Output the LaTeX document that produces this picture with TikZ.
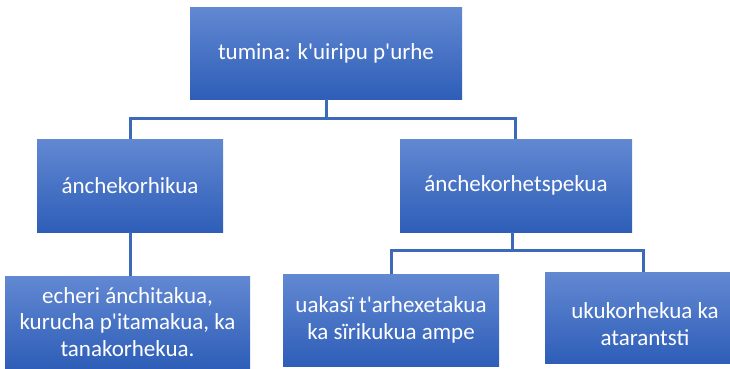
\documentclass[tikz,border=0pt]{standalone}
\usepackage{fontspec}
\setmainfont{Carlito}[Ligatures=TeXOff]
\usetikzlibrary{calc}
\definecolor{boxtop}{HTML}{6288D2}
\definecolor{boxbot}{HTML}{2E5EB8}
\definecolor{conncol}{HTML}{3C69B8}
\begin{document}
\begin{tikzpicture}[x=1pt,y=-1pt,
  box/.style={rectangle, inner sep=0pt, top color=boxtop, bottom color=boxbot, draw=none,
    text=white, font=\fontsize{23}{26.5}\selectfont, align=center},
  conn/.style={draw=conncol, line width=3pt},
  lbl/.style={text=white, font=\fontsize{23}{26.5}\selectfont, align=center, inner sep=0pt}]
\useasboundingbox (0,0) rectangle (730,368);
\node[box, minimum width=272pt, minimum height=92pt] (top) at (326,53) {tumina: k'uiripu p'urhe};
\node[box, minimum width=186pt, minimum height=93pt] (b2) at (130,185.5) {ánchekorhikua};
\node[box, minimum width=232pt, minimum height=93pt] (b3) at (516,185.5) {ánchekorhetspekua};
\node[box, minimum width=245pt, minimum height=92pt] (l1) at (127.5,322) {echeri ánchitakua,\\kurucha p'itamakua, ka\\tanakorhekua.};
\node[box, minimum width=216pt, minimum height=92pt] (l2) at (391,320) {uakasï t'arhexetakua\\ka sïrikukua ampe};
\node[box, minimum width=185pt, minimum height=91pt] (l3) at (637.5,317.5) {};
\node[lbl] (l3t) at (645,324) {ukukorhekua ka\\atarantsti};
\coordinate (j1) at (326,118);
\coordinate (j2) at (512,250);
\draw[conn] (top.south) -- (j1);
\draw[conn] (b2.north) |- (j1) -| ($(b3.north)+(-1,0)$);
\draw[conn] (b2.south) -- (b2.south |- l1.north);
\draw[conn] (b3.south -| j2) -- (j2);
\draw[conn] (l2.north) |- (j2) -| ($(l3.north)+(5.5,0)$);
\end{tikzpicture}
\end{document}
